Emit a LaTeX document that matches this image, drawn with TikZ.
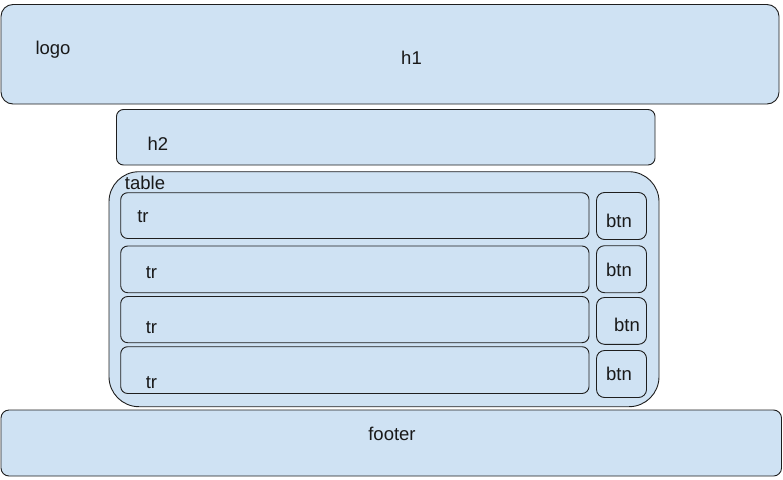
\documentclass[tikz,border=0pt]{standalone}
\usepackage{fontspec}
\setmainfont{Liberation Sans}
\begin{document}
\begin{tikzpicture}[x=1pt,y=-1pt]
			\definecolor{xanh}{RGB}{207,226,243}
			\definecolor{vien}{RGB}{30,30,30}
			\tikzset{
				hop/.style={fill=xanh,draw=vien,line width=0.9pt},
				chu/.style={inner sep=0pt,anchor=base,font=\fontsize{18.5}{22}\selectfont,text=black!90}
			}
			\useasboundingbox (0,0) rectangle (783,479);
			
			%Cac hop
			\foreach \xa/\ya/\xb/\yb/\bo in {
				1/4.5/779/104/12,
				116.5/109.5/655/165/7,
				109/171.7/659/406.7/30,
				120.7/192.7/589/238.5/7,
				120.7/246/589/292.7/7,
				120.7/296.5/589/342.7/7,
				120.7/346.7/589/393.5/7,
				596.5/192.5/646.5/239.5/8,
				596.5/245.7/646.5/292.7/8,
				596.5/297.5/646.5/344.3/8,
				596.5/350.5/646.5/397.5/8,
				1/410/781.5/476/8
			}{
				\draw[hop,rounded corners=\bo] (\xa,\ya) rectangle (\xb,\yb);
			}
			
			%Cac chu
			\foreach \ten/\x/\y/\noidung in {
				logo/53/54/logo,
				hmot/411.5/64/h1,
				hhai/158/150/h2,
				bang/145/189/table,
				trmot/143/222/tr,
				trhai/151.5/278/tr,
				trba/151.5/333/tr,
				trbon/151.5/388/tr,
				nutmot/619/227.5/btn,
				nuthai/619/276/btn,
				nutba/627/331.5/btn,
				nutbon/619/380.5/btn,
				chan/392/440.5/footer
			}{
				\node[chu] (\ten) at (\x,\y) {\noidung};
			}
		\end{tikzpicture}
\end{document}
